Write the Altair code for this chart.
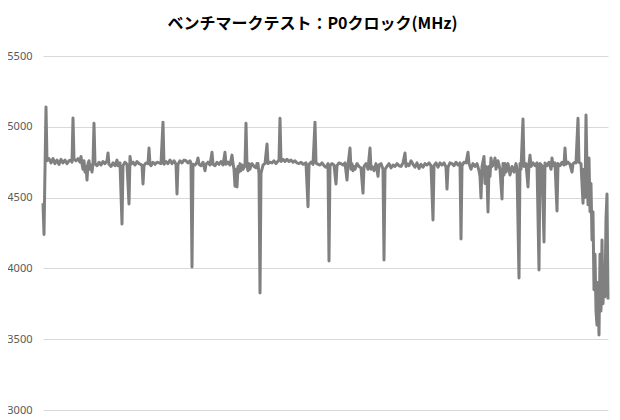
import altair as alt
import pandas as pd

title_text = "ベンチマークテスト：P0クロック(MHz)"
y_ticks = [3000, 3500, 4000, 4500, 5000, 5500]

sample = [
    0, 1, 2, 3, 4, 6, 8, 10, 12, 14, 16, 18, 20, 22, 24, 26, 28, 29, 30, 31,
    33, 35, 37, 38, 39, 40, 41, 42, 43, 44, 45, 46, 47, 48, 49, 50, 51, 52, 54, 56,
    58, 60, 62, 64, 65, 66, 68, 70, 72, 74, 75, 77, 79, 80, 82, 84, 86, 87, 88, 90,
    92, 94, 96, 99, 100, 101, 103, 105, 106, 107, 108, 110, 112, 114, 116, 118, 120, 121, 123, 125,
    127, 129, 131, 133, 134, 135, 137, 139, 141, 143, 145, 147, 148, 149, 150, 152, 154, 155, 156, 158,
    160, 162, 163, 165, 167, 169, 170, 172, 174, 176, 178, 180, 182, 183, 185, 187, 189, 190, 191, 192,
    193, 194, 195, 196, 197, 198, 199, 200, 202, 203, 204, 205, 206, 207, 208, 209, 211, 213, 214, 215,
    216, 217, 218, 219, 220, 222, 224, 225, 227, 229, 231, 233, 236, 237, 238, 240, 242, 244, 246, 248,
    250, 252, 254, 256, 258, 260, 263, 265, 266, 268, 270, 272, 273, 275, 277, 279, 281, 283, 285, 286,
    287, 289, 291, 293, 294, 296, 298, 300, 302, 304, 305, 307, 308, 309, 310, 311, 312, 314, 316, 318,
    320, 321, 323, 325, 327, 328, 329, 331, 333, 335, 336, 338, 340, 341, 342, 344, 346, 348, 350, 352,
    354, 356, 358, 360, 362, 363, 364, 366, 368, 370, 372, 374, 376, 378, 380, 382, 384, 386, 388, 390,
    391, 393, 395, 397, 399, 401, 403, 404, 405, 407, 409, 411, 413, 415, 417, 418, 419, 421, 423, 425,
    426, 428, 430, 432, 434, 436, 437, 438, 439, 441, 442, 443, 444, 445, 446, 447, 448, 449, 451, 452,
    453, 455, 457, 459, 460, 461, 462, 463, 465, 467, 469, 471, 473, 474, 476, 477, 478, 480, 481, 483,
    485, 486, 487, 488, 490, 492, 494, 496, 497, 499, 501, 502, 504, 506, 508, 509, 510, 512, 514, 515,
    517, 519, 521, 522, 523, 525, 527, 529, 530, 532, 533, 535, 536, 538, 539, 540, 541, 542, 543, 544,
    545, 546, 547, 548, 549, 550, 551, 552, 553, 554, 555, 556, 557, 558, 559, 560, 561, 562, 563, 564,
    565,
]

mhz = [
    4460, 4240, 4700, 5140, 4760, 4775, 4745, 4775, 4740, 4765, 4735, 4770, 4745, 4765, 4740, 4760, 4765, 4750, 5062, 4770,
    4760, 4775, 4750, 4790, 4740, 4700, 4760, 4680, 4720, 4624, 4740, 4760, 4700, 4730, 4680, 4740, 5025, 4740, 4725, 4750,
    4730, 4755, 4740, 4760, 4815, 4735, 4720, 4745, 4725, 4765, 4725, 4745, 4313, 4725, 4750, 4735, 4455, 4790, 4735, 4750,
    4730, 4755, 4740, 4730, 4596, 4725, 4745, 4740, 4850, 4735, 4725, 4750, 4735, 4750, 4745, 4740, 5033, 4735, 4755, 4740,
    4765, 4740, 4760, 4735, 4525, 4735, 4760, 4745, 4765, 4760, 4745, 4760, 4740, 4010, 4735, 4730, 4750, 4780, 4735, 4725,
    4750, 4690, 4735, 4750, 4730, 4820, 4735, 4725, 4750, 4735, 4755, 4730, 4820, 4735, 4750, 4730, 4800, 4740, 4700, 4580,
    4700, 4575, 4720, 4680, 4740, 4690, 4730, 4700, 4730, 5025, 4720, 4690, 4740, 4700, 4730, 4740, 4720, 4710, 4740, 4740,
    4670, 3826, 4670, 4700, 4730, 4740, 4878, 4740, 4750, 4745, 4760, 4740, 4765, 5060, 4755, 4770, 4755, 4770, 4755, 4765,
    4750, 4760, 4745, 4740, 4750, 4735, 4745, 4435, 4735, 4750, 4735, 5033, 4745, 4735, 4730, 4745, 4725, 4715, 4740, 4052,
    4725, 4740, 4730, 4596, 4725, 4745, 4740, 4730, 4745, 4624, 4730, 4850, 4700, 4740, 4690, 4720, 4700, 4740, 4720, 4710,
    4532, 4720, 4740, 4700, 4850, 4700, 4720, 4690, 4740, 4650, 4730, 4740, 4700, 4060, 4700, 4720, 4740, 4710, 4730, 4720,
    4740, 4725, 4720, 4745, 4815, 4720, 4740, 4725, 4760, 4735, 4715, 4745, 4705, 4735, 4715, 4740, 4730, 4745, 4725, 4342,
    4725, 4745, 4715, 4745, 4730, 4745, 4715, 4560, 4715, 4745, 4740, 4725, 4750, 4730, 4745, 4208, 4725, 4750, 4745, 4820,
    4740, 4700, 4740, 4720, 4740, 4690, 4650, 4497, 4720, 4790, 4600, 4720, 4650, 4398, 4720, 4650, 4780, 4720, 4740, 4780,
    4700, 4760, 4700, 4490, 4740, 4660, 4740, 4680, 4740, 4660, 4720, 4680, 4740, 4700, 3932, 4740, 4700, 5055, 4720, 4740,
    4575, 4740, 4800, 4720, 4745, 4725, 4745, 3989, 4740, 4725, 4187, 4745, 4725, 4750, 4700, 4780, 4725, 4745, 4405, 4740,
    4725, 4750, 4730, 4850, 4735, 4750, 4735, 4680, 4740, 4750, 4745, 5060, 4750, 4740, 4600, 4460, 4700, 4500, 5083, 4700,
    4450, 4780, 4400, 4600, 4200, 4400, 3850, 4100, 3700, 3600, 3900, 3530, 4100, 3700, 4200, 3750, 4000, 3800, 4350, 4525,
    3780,
]

df = pd.DataFrame({"sample": sample, "mhz": mhz})

chart = (
    alt.Chart(df)
    .mark_line(color="#808080", strokeWidth=3, strokeJoin="round")
    .encode(
        x=alt.X("sample:Q", axis=None, scale=alt.Scale(domain=[0, 565], nice=False, zero=False)),
        y=alt.Y(
            "mhz:Q",
            title=None,
            scale=alt.Scale(domain=[3000, 5500], nice=False, zero=False),
            axis=alt.Axis(
                values=y_ticks,
                format="d",
                domain=False,
                ticks=False,
                grid=True,
                gridColor="#d9d9d9",
                gridWidth=1,
                labelColor="#595959",
                labelFont="Noto Sans",
                labelFontSize=11,
                labelPadding=11,
            ),
        ),
    )
    .properties(
        width=565,
        height=354,
        title=alt.TitleParams(
            text=title_text,
            font="Noto Sans CJK JP",
            fontSize=16,
            fontWeight="bold",
            color="#000000",
            anchor="middle",
            dx=-13,
            offset=18,
        ),
        autosize=alt.AutoSizeParams(type="none"),
        padding={"left": 35, "top": 48, "right": 4, "bottom": 10},
    )
    .configure_view(stroke=None)
)

chart.save("out.html", embed_options={"renderer": "svg", "actions": False})
